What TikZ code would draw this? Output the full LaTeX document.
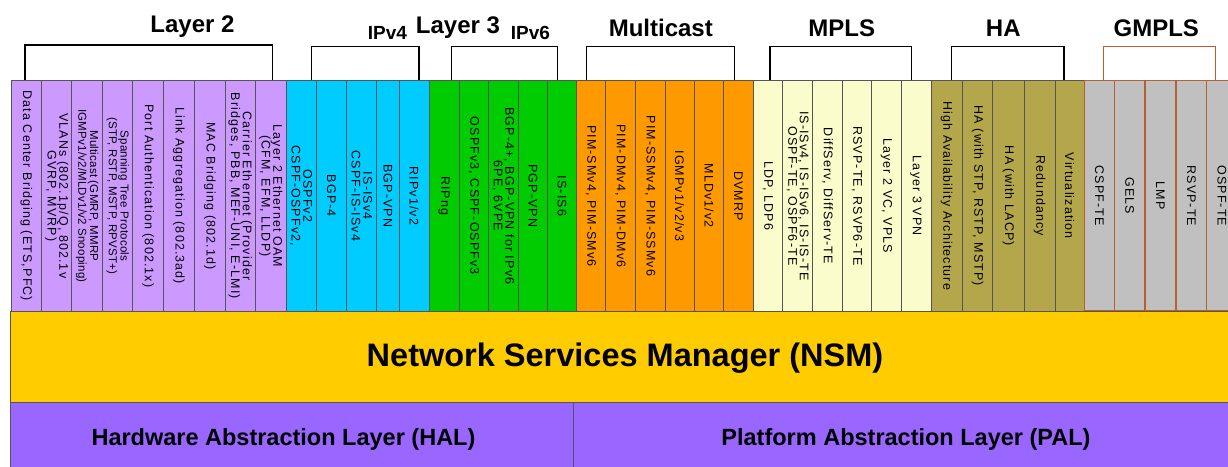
\documentclass[tikz,border=0pt]{standalone}
\usepackage{fontspec}
\setmainfont{Liberation Sans}
\newfontfamily\colfam{Liberation Sans}[LetterSpace=9]
\newfontfamily\colfamn{Liberation Sans}[LetterSpace=2]
\definecolor{ltwo}{HTML}{CC99FF}
\definecolor{ipfour}{HTML}{00CCFF}
\definecolor{ipsix}{HTML}{00CC00}
\definecolor{mcast}{HTML}{FF9900}
\definecolor{mplsc}{HTML}{FAFCCB}
\definecolor{hacol}{HTML}{B4A64A}
\definecolor{gmpls}{HTML}{C0C0C0}
\definecolor{gmline}{HTML}{B5602E}
\definecolor{nsmc}{HTML}{FFCC00}
\definecolor{halc}{HTML}{9966FF}
\definecolor{edge}{HTML}{555555}
\tikzset{
  colnode/.style={draw=edge, line width=0.8pt, rotate=-90, minimum width=230.3pt,
    inner sep=0pt, outer sep=0pt, align=center,
    font=\colfam\fontsize{12.5}{11.7}\selectfont},
  smalltxt/.style={font=\colfamn\fontsize{11.5}{11.7}\selectfont},
  gmcol/.style={fill=gmpls, draw=gmline, line width=1.4pt},
  grplabel/.style={font=\bfseries\fontsize{24}{24}\selectfont, anchor=base, inner sep=0pt},
  iplabel/.style={font=\bfseries\fontsize{19}{19}\selectfont, anchor=base, inner sep=0pt},
  bracket/.style={line width=1.3pt, black},
  layerbox/.style={draw=edge, line width=1pt, anchor=north west, inner sep=0pt, outer sep=0pt},
  bigtext/.style={font=\bfseries\fontsize{32.5}{32.5}\selectfont, anchor=base, inner sep=0pt},
  midtext/.style={font=\bfseries\fontsize{23.5}{23.5}\selectfont, anchor=base, inner sep=0pt}
}
\newcommand\mycol[5]{\node[colnode,#4,minimum height={#3-#2}] (#1) at ({(#2+#3)/2},195.85) {#5};}
\newcommand\mybracket[5]{%
  \coordinate (#1a) at (#2,80.7);
  \coordinate (#1b) at (#3,80.7);
  \draw[bracket,#5] (#1a) -- ++(0,{-(80.7-#4)}) -| (#1b);}
\begin{document}
\begin{tikzpicture}[x=1pt,y=-1pt]
\path[use as bounding box] (0,0) rectangle (1228,466);
\clip (0,0) rectangle (1228,466);
\fill[white] (0,0) rectangle (1228,466);

% group labels
\node[grplabel] (lab2) at (192.5,32) {Layer 2};
\node[grplabel] (lab3) at (458,33.3) {Layer 3};
\node[iplabel] (labv4) at (387.5,39.3) {IPv4};
\node[iplabel] (labv6) at (530.5,39.3) {IPv6};
\node[grplabel] (labmc) at (660.8,36.8) {Multicast};
\node[grplabel] (labmp) at (841.7,36.8) {MPLS};
\node[grplabel] (labha) at (1003.3,36.8) {HA};
\node[grplabel] (labgm) at (1156.3,36.8) {GMPLS};

% brackets
\mybracket{bl2}{25}{272.7}{45}{}
\mybracket{bv4}{311.7}{419}{46.5}{}
\mybracket{bv6}{451.7}{557.3}{46.5}{}
\mybracket{bmc}{586.7}{734.7}{46.5}{}
\mybracket{bmp}{770}{911.7}{46.5}{}
\mybracket{bha}{951.7}{1064}{46.5}{}
\mybracket{bgm}{1103.3}{1215.7}{46.5}{draw=gmline}

% Layer 2
\mycol{c1}{11}{41.7}{fill=ltwo}{Data Center Bridging (ETS,PFC)}
\mycol{c2}{41.7}{71.7}{fill=ltwo}{VLANs (802.1p/Q, 802.1v\\GVRP, MVRP)}
\mycol{c3}{71.7}{102.7}{fill=ltwo,smalltxt}{Multicast (GMRP, MMRP\\IGMPv1/v2/MLDv1/v2 Snooping)}
\mycol{c4}{102.7}{132.7}{fill=ltwo,smalltxt}{Spanning Tree Protocols\\(STP, RSTP, MSTP, RPVST+)}
\mycol{c5}{132.7}{163.3}{fill=ltwo}{Port Authentication (802.1x)}
\mycol{c6}{163.3}{194.3}{fill=ltwo}{Link Aggregation (802.3ad)}
\mycol{c7}{194.3}{225.3}{fill=ltwo}{MAC Bridging (802.1d)}
\mycol{c8}{225.3}{255.3}{fill=ltwo}{Carrier Ethernet (Provider\\Bridges, PBB, MEF-UNI, E-LMI)}
\mycol{c9}{255.3}{286}{fill=ltwo}{Layer 2 Ethernet OAM\\(CFM, EFM, LLDP)}
% IPv4
\mycol{c10}{286}{316}{fill=ipfour}{OSPFv2\\CSPF-OSPFv2,}
\mycol{c11}{316}{346.7}{fill=ipfour}{BGP-4}
\mycol{c12}{346.7}{376.7}{fill=ipfour}{IS-ISv4\\CSPF-IS-ISv4}
\mycol{c13}{376.7}{399.3}{fill=ipfour}{BGP-VPN}
\mycol{c14}{399.3}{429}{fill=ipfour}{RIPv1/v2}
% IPv6
\mycol{c15}{429}{459}{fill=ipsix}{RIPng}
\mycol{c16}{459}{488.7}{fill=ipsix}{OSPFv3, CSPF-OSPFv3}
\mycol{c17}{488.7}{518}{fill=ipsix}{BGP-4+, BGP-VPN for IPv6\\6PE, 6VPE}
\mycol{c18}{518}{547.7}{fill=ipsix}{PGP-VPN}
\mycol{c19}{547.7}{576}{fill=ipsix}{IS-IS6}
% Multicast
\mycol{c20}{576}{605.7}{fill=mcast}{PIM-SMv4, PIM-SMv6}
\mycol{c21}{605.7}{635.3}{fill=mcast}{PIM-DMv4, PIM-DMv6}
\mycol{c22}{635.3}{665}{fill=mcast}{PIM-SSMv4, PIM-SSMv6}
\mycol{c23}{665}{694.3}{fill=mcast}{IGMPv1/v2/v3}
\mycol{c24}{694.3}{723.7}{fill=mcast}{MLDv1/v2}
\mycol{c25}{723.7}{753.3}{fill=mcast}{DVMRP}
% MPLS
\mycol{c26}{753.3}{782.7}{fill=mplsc}{LDP, LDP6}
\mycol{c27}{782.7}{812.7}{fill=mplsc}{IS-ISv4, IS-ISv6, IS-IS-TE\\OSPF-TE, OSPF6-TE}
\mycol{c28}{812.7}{842.3}{fill=mplsc}{DiffServ, DiffServ-TE}
\mycol{c29}{842.3}{871.7}{fill=mplsc}{RSVP-TE, RSVP6-TE}
\mycol{c30}{871.7}{901}{fill=mplsc}{Layer 2 VC, VPLS}
\mycol{c31}{901}{931}{fill=mplsc}{Layer 3 VPN}
% HA
\mycol{c32}{931}{962.3}{fill=hacol}{High Availability Architecture}
\mycol{c33}{962.3}{992.7}{fill=hacol}{HA (with STP, RSTP, MSTP)}
\mycol{c34}{992.7}{1024}{fill=hacol}{HA (with LACP)}
\mycol{c35}{1024}{1055}{fill=hacol}{Redundancy}
\mycol{c36}{1055}{1084.3}{fill=hacol}{Virtualization}
% GMPLS
\mycol{c37}{1084.3}{1114.3}{gmcol}{CSPF-TE}
\mycol{c38}{1114.3}{1145}{gmcol}{GELS}
\mycol{c39}{1145}{1176}{gmcol}{LMP}
\mycol{c40}{1176}{1206.7}{gmcol}{RSVP-TE}
\mycol{c41}{1206.7}{1237}{gmcol}{OSPF-TE}

% NSM
\node[layerbox, fill=nsmc, minimum width=1235pt, minimum height=91.5pt] (nsm) at (10,311) {};
\node[bigtext] (nsmtxt) at (625,366) {Network Services Manager (NSM)};
% HAL / PAL
\node[layerbox, fill=halc, minimum width=563pt, minimum height=70pt] (hal) at (10,402.5) {};
\node[layerbox, fill=halc, minimum width=670pt, minimum height=70pt] (pal) at (573,402.5) {};
\node[midtext] (haltxt) at (283.5,445) {Hardware Abstraction Layer (HAL)};
\node[midtext] (paltxt) at (906,445) {Platform Abstraction Layer (PAL)};
\end{tikzpicture}
\end{document}
